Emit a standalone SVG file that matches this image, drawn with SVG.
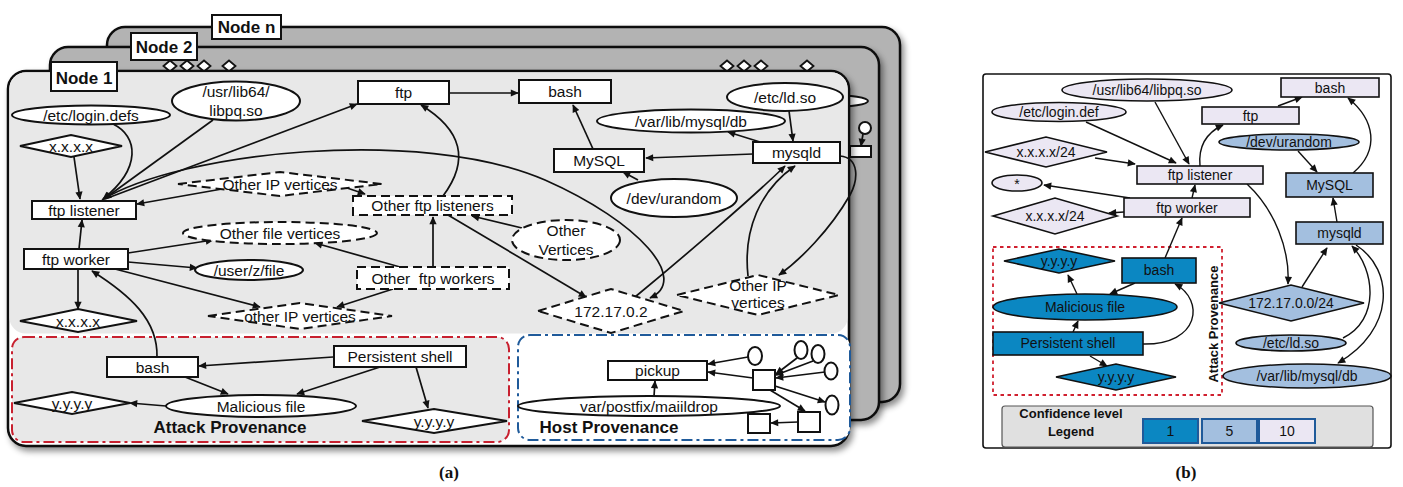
<svg xmlns="http://www.w3.org/2000/svg" width="1403" height="487" viewBox="0 0 1403 487">
<defs>
<style>
text{font-family:"Liberation Sans",Arial,sans-serif;fill:#111}
.t{font-size:15.5px;text-anchor:middle}
.tb{font-size:14px;text-anchor:middle}
.bold{font-weight:bold}
.cap{font-family:"Liberation Serif","Times New Roman",serif;font-weight:bold;font-size:17px;text-anchor:middle}
.n{fill:#fff;stroke:#111;stroke-width:2}
.d{fill:#fff;stroke:#111;stroke-width:2;stroke-dasharray:9 5}
.c{fill:none;stroke:#111;stroke-width:1.7;marker-end:url(#ah)}
.c2{fill:none;stroke:#111;stroke-width:1.4;marker-end:url(#ah)}
.lav{fill:#ebe7f3;stroke:#111;stroke-width:1.6}
.mid{fill:#a3bfdf;stroke:#111;stroke-width:1.6}
.dk{fill:#0b87c2;stroke:#111;stroke-width:1.6}
.card{stroke:#111;stroke-width:2.5}
.dia{fill:#fff;stroke:#111;stroke-width:1.8}
.leg{stroke:#1f5a9a;stroke-width:2}
</style>
<marker id="ah" viewBox="0 0 10 10" refX="9" refY="5" markerWidth="10" markerHeight="8" markerUnits="userSpaceOnUse" orient="auto"><path d="M0,0.5 L10,5 L0,9.5 z" fill="#111"/></marker>
<filter id="sh" x="-5%" y="-5%" width="112%" height="120%"><feDropShadow dx="3" dy="4" stdDeviation="3" flood-color="#000" flood-opacity="0.45"/></filter>
</defs>

<!-- ===== Panel (a) ===== -->
<g id="node-n">
<rect class="card" x="107" y="27" width="793" height="375" rx="18" fill="#b3b3b3" filter="url(#sh)"/>
<rect x="212" y="15" width="69" height="24" fill="#fff" stroke="#111" stroke-width="2"/>
<text x="246.5" y="33" class="bold" font-size="17" text-anchor="middle">Node n</text>
</g>
<g id="node-2">
<rect class="card" x="50" y="47" width="829" height="373" rx="18" fill="#b3b3b3" filter="url(#sh)"/>
<rect x="131" y="33" width="66" height="27" fill="#fff" stroke="#111" stroke-width="2"/>
<text x="164" y="53" class="bold" font-size="17" text-anchor="middle">Node 2</text>
<g class="dia">
<polygon points="163.5,66 170,60.5 176.5,66 170,71.5"/>
<polygon points="180.5,66 187,60.5 193.5,66 187,71.5"/>
<polygon points="197.5,66 204,60.5 210.5,66 204,71.5"/>
<polygon points="222.5,66 229,60.5 235.5,66 229,71.5"/>
<polygon points="720.5,66 727,60.5 733.5,66 727,71.5"/>
<polygon points="737.5,66 744,60.5 750.5,66 744,71.5"/>
<polygon points="754.5,66 761,60.5 767.5,66 761,71.5"/>
<polygon points="800.5,66 807,60.5 813.5,66 807,71.5"/>
</g>
<ellipse cx="830" cy="101" rx="38" ry="6" class="n"/>
<ellipse cx="865" cy="128" rx="6" ry="6" class="n"/>
<path class="c" d="M863,134 L861,146"/>
<rect x="850" y="146" width="21" height="11" class="n"/>
</g>

<g id="node-1">
<rect class="card" x="8" y="71" width="841" height="375" rx="18" fill="#fff" filter="url(#sh)"/>
<rect x="9.5" y="72.5" width="838" height="261" rx="16" fill="#e8e8e8"/>
<rect x="51" y="62" width="66" height="29" fill="#fff" stroke="#111" stroke-width="2"/>
<text x="84" y="84" class="bold" font-size="17" text-anchor="middle">Node 1</text>
</g>

<g id="attack-provenance-a">
<rect x="12" y="337" width="497" height="105" rx="12" fill="#e8e8e8" stroke="#c8202f" stroke-width="2" stroke-dasharray="11 4 3 4"/>
<text x="230" y="433" class="bold" font-size="17" text-anchor="middle">Attack Provenance</text>
</g>
<g id="host-provenance-a">
<rect x="518" y="335" width="332" height="105" rx="12" fill="#fff" stroke="#1f5a9a" stroke-width="2" stroke-dasharray="11 4 3 4"/>
<text x="609" y="433" class="bold" font-size="17" text-anchor="middle">Host Provenance</text>
</g>

<g id="connectors-a">
<path class="c" d="M113,124 C138,136 142,168 103,199"/>
<path class="c" d="M213,120 L104,199"/>
<path class="c" d="M74,157 L80,199"/>
<path class="c" d="M105,199 L357,104"/>
<path class="c" d="M102,200 C180,152 420,126 545,180 C640,222 690,280 650,298"/>
<path class="c" d="M222,189 L137,204"/>
<path class="c" d="M335,184 L365,194"/>
<path class="c" d="M443,196 C470,160 462,130 421,105"/>
<path class="c" d="M522,228 L472,216"/>
<path class="c" d="M448,215 L586,297"/>
<path class="c" d="M433,267 L433,217"/>
<path class="c" d="M400,267 L315,243"/>
<path class="c" d="M393,289 L337,307"/>
<path class="c" d="M79,249 L82,220"/>
<path class="c" d="M128,253 L213,240"/>
<path class="c" d="M128,262 L197,268"/>
<path class="c" d="M115,269 L260,307"/>
<path class="c" d="M78,269 L78,309"/>
<path class="c" d="M157,357 C158,320 130,295 92,271"/>
<path class="c" d="M449,93 L518,93"/>
<path class="c" d="M593,149 L573,105"/>
<path class="c" d="M753,154 L646,158"/>
<path class="c" d="M638,180 L623,172"/>
<path class="c" d="M760,142 L728,132"/>
<path class="c" d="M789,111 L793,141"/>
<path class="c" d="M635,297 C680,260 750,200 785,166"/>
<path class="c" d="M748,276 C743,230 760,190 795,166"/>
<path class="c" d="M840,156 C860,158 858,180 850,195 C830,230 800,260 779,275"/>
<!-- attack -->
<path class="c" d="M333,357 L199,366"/>
<path class="c" d="M185,377 L228,394"/>
<path class="c" d="M380,367 L297,394"/>
<path class="c" d="M416,367 L428,408"/>
<path class="c" d="M166,406 L130,403"/>
<!-- host -->
<path class="c" d="M748,357 L708,364"/>
<path class="c" d="M753,378 L708,372"/>
<path class="c" d="M654,396 L655,381"/>
<path class="c" d="M797,358 L776,374"/>
<path class="c" d="M813,361 L776,375"/>
<path class="c" d="M825,372 L776,378"/>
<path class="c" d="M775,386 L825,402"/>
<path class="c" d="M770,390 L805,411"/>
<path class="c" d="M798,422 L771,423"/>
</g>

<g id="a-login-defs"><ellipse cx="91" cy="115" rx="79" ry="9.5" class="n"/><text x="91" y="120.5" class="t">/etc/login.defs</text></g>
<g id="a-libpq"><ellipse cx="236" cy="101" rx="64" ry="19.5" class="n"/><text x="236" y="97" class="t">/usr/lib64/</text><text x="236" y="116" class="t">libpq.so</text></g>
<g id="a-xxxx-1"><polygon points="20,146 71,135 122,146 71,157" class="n"/><text x="71" y="151.5" class="t">x.x.x.x</text></g>
<g id="a-ftp-listener"><rect x="32" y="201" width="104" height="18" class="n"/><text x="84" y="215.5" class="t">ftp listener</text></g>
<g id="a-ftp-worker"><rect x="24" y="249" width="104" height="20" class="n"/><text x="76" y="264.5" class="t">ftp worker</text></g>
<g id="a-xxxx-2"><polygon points="20,321 78,309 137,321 78,332" class="n"/><text x="78" y="327" class="t">x.x.x.x</text></g>
<g id="a-user-file"><ellipse cx="249" cy="270" rx="54" ry="10" class="n"/><text x="249" y="275.5" class="t">/user/z/file</text></g>
<g id="a-other-file"><ellipse cx="280" cy="233" rx="97" ry="11" class="d"/><text x="280" y="238.5" class="t">Other file vertices</text></g>
<g id="a-other-ip-1"><polygon points="178,184 280,172 382,184 280,196" class="d"/><text x="280" y="189.5" class="t">Other IP vertices</text></g>
<g id="a-other-ip-2"><polygon points="208,316 300,303 392,316 300,329" class="d"/><text x="300" y="321.5" class="t">other IP vertices</text></g>
<g id="a-other-ftp-listeners"><rect x="353" y="196" width="159" height="19" class="d"/><text x="432.5" y="211" class="t">Other ftp listeners</text></g>
<g id="a-other-ftp-workers"><rect x="357" y="267" width="152" height="22" class="d"/><text x="433" y="283.5" class="t" xml:space="preserve">Other  ftp workers</text></g>
<g id="a-other-vertices"><ellipse cx="566" cy="240" rx="54" ry="20" class="d"/><text x="566" y="236" class="t">Other</text><text x="566" y="255" class="t">Vertices</text></g>
<g id="a-172"><polygon points="538,311 611,289 684,311 611,333" class="d"/><text x="611" y="316.5" class="t">172.17.0.2</text></g>
<g id="a-other-ip-3"><polygon points="677,295 758,275 839,295 758,315" class="d"/><text x="758" y="291" class="t">Other IP</text><text x="758" y="308" class="t">vertices</text></g>
<g id="a-ftp"><rect x="358" y="81" width="91" height="23" class="n"/><text x="403.5" y="97.5" class="t">ftp</text></g>
<g id="a-bash"><rect x="519" y="80" width="92" height="23" class="n"/><text x="565" y="96.5" class="t">bash</text></g>
<g id="a-mysql"><rect x="554" y="149" width="90" height="23" class="n"/><text x="599" y="166" class="t">MySQL</text></g>
<g id="a-urandom"><ellipse cx="674" cy="198" rx="63" ry="19" class="n"/><text x="674" y="203.5" class="t">/dev/urandom</text></g>
<g id="a-mysql-db"><ellipse cx="691" cy="121" rx="94" ry="11.5" class="n"/><text x="691" y="126.5" class="t">/var/lib/mysql/db</text></g>
<g id="a-ld-so"><ellipse cx="785" cy="97" rx="58" ry="14" class="n"/><text x="785" y="102.5" class="t">/etc/ld.so</text></g>
<g id="a-mysqld"><rect x="753" y="142" width="87" height="21" class="n"/><text x="796.5" y="158" class="t">mysqld</text></g>

<g id="a-attack-bash"><rect x="107" y="357" width="91" height="20" class="n"/><text x="152.5" y="372.5" class="t">bash</text></g>
<g id="a-persistent-shell"><rect x="334" y="346" width="132" height="21" class="n"/><text x="400" y="362" class="t">Persistent shell</text></g>
<g id="a-malicious-file"><ellipse cx="261" cy="406" rx="95" ry="11" class="n"/><text x="261" y="411.5" class="t">Malicious file</text></g>
<g id="a-yyyy-1"><polygon points="14,403 72,392 130,403 72,414" class="n"/><text x="72" y="408.5" class="t">y.y.y.y</text></g>
<g id="a-yyyy-2"><polygon points="362,421 434,409 507,421 434,433" class="n"/><text x="434" y="426.5" class="t">y.y.y.y</text></g>

<g id="a-pickup"><rect x="608" y="361" width="99" height="19" class="n"/><text x="657.5" y="376" class="t">pickup</text></g>
<g id="a-maildrop"><ellipse cx="649" cy="406" rx="131" ry="10" class="n"/><text x="649" y="411.5" class="t">var/postfix/maiildrop</text></g>
<g id="a-host-c1"><ellipse cx="755" cy="356" rx="7" ry="9" class="n"/></g>
<g id="a-host-c2"><ellipse cx="801" cy="350" rx="6.5" ry="9" class="n"/></g>
<g id="a-host-c3"><ellipse cx="818" cy="354" rx="6.5" ry="9" class="n"/></g>
<g id="a-host-c4"><ellipse cx="831" cy="371" rx="6.5" ry="8.5" class="n"/></g>
<g id="a-host-c5"><ellipse cx="832" cy="405" rx="6.5" ry="9.5" class="n"/></g>
<g id="a-host-s1"><rect x="753" y="370" width="22" height="20" class="n"/></g>
<g id="a-host-s2"><rect x="798" y="412" width="22" height="20" class="n"/></g>
<g id="a-host-s3"><rect x="748" y="414" width="22" height="19" class="n"/></g>

<text x="449" y="478" class="cap">(a)</text>

<!-- ===== Panel (b) ===== -->
<g id="b-frame"><rect x="983" y="74" width="408" height="374" rx="3" fill="#fff" stroke="#111" stroke-width="1.6"/></g>
<g id="b-attack-provenance">
<rect x="993" y="247" width="229" height="148" fill="none" stroke="#d0202f" stroke-width="1.8" stroke-dasharray="3.5 3.5"/>
<text transform="translate(1218,324) rotate(-90)" class="bold" font-size="13" text-anchor="middle">Attack Provenance</text>
</g>

<g id="connectors-b">
<path class="c2" d="M1155,102 L1189,164"/>
<path class="c2" d="M1086,122 L1176,163"/>
<path class="c2" d="M1095,158 L1135,164"/>
<path class="c2" d="M1130,198 L1044,185"/>
<path class="c2" d="M1124,212 L1109,213"/>
<path class="c2" d="M1192,198 L1195,185"/>
<path class="c2" d="M1200,166 C1198,145 1208,132 1223,125"/>
<path class="c2" d="M1278,106 L1302,97"/>
<path class="c2" d="M1298,151 L1317,172"/>
<path class="c2" d="M1353,173 C1380,150 1375,120 1348,98"/>
<path class="c2" d="M1337,222 L1333,198"/>
<path class="c2" d="M1247,184 C1275,210 1290,250 1288,284"/>
<path class="c2" d="M1302,287 L1327,248"/>
<path class="c2" d="M1343,338 C1380,320 1375,270 1352,246"/>
<path class="c2" d="M1356,245 C1395,270 1395,330 1338,363"/>
<path class="c2" d="M1165,258 L1182,218"/>
<path class="c2" d="M1077,294 L1068,275"/>
<path class="c2" d="M1135,283 L1110,294"/>
<path class="c2" d="M1073,332 L1078,321"/>
<path class="c2" d="M1090,356 L1107,366"/>
<path class="c2" d="M1143,344 C1200,345 1205,300 1175,284"/>
</g>

<g id="b-libpq"><ellipse cx="1147" cy="90" rx="85" ry="11" class="lav"/><text x="1147" y="95" class="tb">/usr/lib64/libpq.so</text></g>
<g id="b-login-def"><ellipse cx="1059" cy="112" rx="67" ry="9.5" class="lav"/><text x="1059" y="117" class="tb">/etc/login.def</text></g>
<g id="b-xxxx-1"><polygon points="985,152 1046,137 1107,152 1046,167" class="lav"/><text x="1046" y="157" class="tb">x.x.x.x/24</text></g>
<g id="b-star"><ellipse cx="1017" cy="183" rx="25" ry="8" class="lav"/><text x="1017" y="189" class="tb">*</text></g>
<g id="b-xxxx-2"><polygon points="993,216 1055,198 1117,216 1055,234" class="lav"/><text x="1055" y="221" class="tb">x.x.x.x/24</text></g>
<g id="b-ftp-listener"><rect x="1137" y="166" width="126" height="18" class="lav"/><text x="1200" y="180" class="tb">ftp listener</text></g>
<g id="b-ftp-worker"><rect x="1124" y="198" width="126" height="19" class="lav"/><text x="1187" y="213" class="tb">ftp worker</text></g>
<g id="b-ftp"><rect x="1202" y="107" width="97" height="17" class="lav"/><text x="1250.5" y="121" class="tb">ftp</text></g>
<g id="b-bash"><rect x="1281" y="78" width="98" height="19" class="lav"/><text x="1330" y="93" class="tb">bash</text></g>
<g id="b-urandom"><ellipse cx="1289" cy="142" rx="70" ry="8" class="mid"/><text x="1289" y="147" class="tb">/dev/urandom</text></g>
<g id="b-mysql"><rect x="1286" y="173" width="87" height="24" class="mid"/><text x="1329.5" y="190" class="tb">MySQL</text></g>
<g id="b-mysqld"><rect x="1296" y="222" width="87" height="22" class="mid"/><text x="1339.5" y="238" class="tb">mysqld</text></g>
<g id="b-172"><polygon points="1219,303 1291,285 1364,303 1291,321" class="mid"/><text x="1291" y="308" class="tb">172.17.0.0/24</text></g>
<g id="b-ld-so"><ellipse cx="1291" cy="343" rx="55" ry="8" class="mid"/><text x="1291" y="348" class="tb">/etc/ld.so</text></g>
<g id="b-mysql-db"><ellipse cx="1307" cy="376" rx="84" ry="12" class="mid"/><text x="1307" y="381" class="tb">/var/lib/mysql/db</text></g>

<g id="b-yyyy-1"><polygon points="1004,261 1059,249 1115,261 1059,273" class="dk"/><text x="1059" y="266" class="tb">y.y.y.y</text></g>
<g id="b-bash-attack"><rect x="1122" y="258" width="74" height="25" class="dk"/><text x="1159" y="275" class="tb">bash</text></g>
<g id="b-malicious"><ellipse cx="1085" cy="307" rx="92" ry="13" class="dk"/><text x="1085" y="312" class="tb">Malicious file</text></g>
<g id="b-persistent"><rect x="993" y="332" width="150" height="23" class="dk"/><text x="1068" y="348" class="tb">Persistent shell</text></g>
<g id="b-yyyy-2"><polygon points="1056,377 1116,364 1176,377 1116,390" class="dk"/><text x="1116" y="382" class="tb">y.y.y.y</text></g>

<g id="b-legend">
<rect x="1002" y="406" width="371" height="41" rx="3" fill="#e0e0e0" stroke="#555" stroke-width="1.2"/>
<text x="1071" y="418" class="bold" font-size="13" text-anchor="middle">Confidence level</text>
<text x="1071" y="436" class="bold" font-size="13" text-anchor="middle">Legend</text>
<rect x="1143" y="419" width="55" height="24" fill="#0b87c2" class="leg"/><text x="1170.5" y="436" class="tb">1</text>
<rect x="1202" y="419" width="55" height="24" fill="#a3bfdf" class="leg"/><text x="1229.5" y="436" class="tb">5</text>
<rect x="1259" y="419" width="56" height="24" fill="#ebe7f3" class="leg"/><text x="1287" y="436" class="tb">10</text>
</g>

<text x="1186" y="478" class="cap">(b)</text>
</svg>
